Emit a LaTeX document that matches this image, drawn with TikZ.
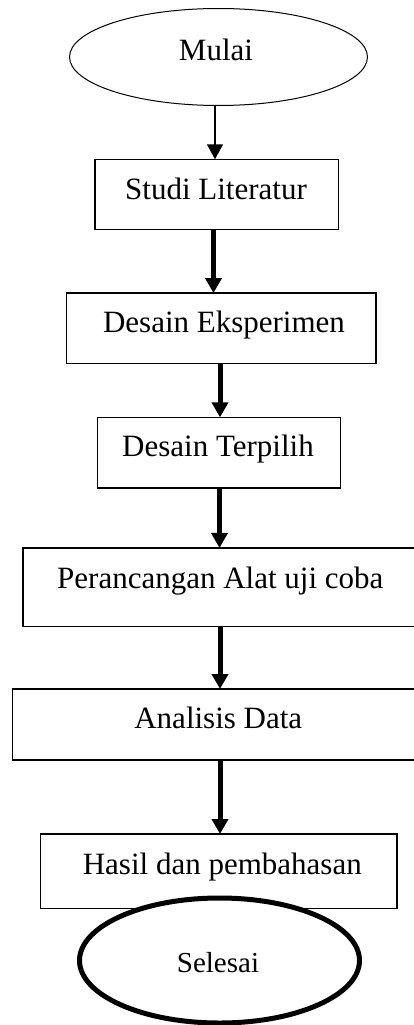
\documentclass[tikz,border=0pt]{standalone}
\usepackage{fontspec}
\setmainfont{Liberation Serif}
\usetikzlibrary{shapes.geometric,arrows.meta}
\tikzset{
  stepbox/.style={draw=black, line width=1.3pt, rectangle, inner sep=0pt, outer sep=0pt},
  termthin/.style={draw=black, line width=1pt, ellipse, inner sep=0pt, outer sep=0pt, fill=white},
  termthick/.style={draw=black, line width=5pt, ellipse, inner sep=0pt, outer sep=0pt, fill=white},
  lbl/.style={anchor=base, inner sep=0pt, font=\fontsize{31}{36}\selectfont},
  lblsmall/.style={anchor=base, inner sep=0pt, font=\fontsize{29}{34}\selectfont},
  thinarrow/.style={line width=1.4pt, -{Triangle[width=16pt,length=15pt]}},
  thickarrow/.style={line width=5pt, -{Triangle[width=16pt,length=15pt]}},
}
\begin{document}
\begin{tikzpicture}[x=1pt,y=-1pt]
\useasboundingbox (0,0) rectangle (413,1025);
% nodes
\node[termthin, minimum width=298pt, minimum height=97pt] (m) at (218.5,57) {};
\node[lbl] (tm) at (216,60) {Mulai};

\node[stepbox, minimum width=243.4pt, minimum height=70pt] (b1) at (216.7,194.3) {};
\node[lbl] (t1) at (216,199.5) {Studi Literatur};

\node[stepbox, minimum width=309.7pt, minimum height=70.3pt] (b2) at (221.2,328.2) {};
\node[lbl] (t2) at (224,332.7) {Desain Eksperimen};

\node[stepbox, minimum width=243.4pt, minimum height=70.7pt] (b3) at (219,452.7) {};
\node[lbl] (t3) at (218,456.7) {Desain Terpilih};

\node[stepbox, minimum width=402pt, minimum height=78.7pt] (b4) at (224,587.3) {};
\node[lbl] (t4) at (220.3,588.3) {Perancangan Alat uji coba};

\node[stepbox, minimum width=412.7pt, minimum height=71pt] (b5) at (218.7,724.5) {};
\node[lbl] (t5) at (218.3,728.3) {Analisis Data};

\node[stepbox, minimum width=356.6pt, minimum height=74.6pt] (b6) at (218.7,871.3) {};
\node[lbl] (t6) at (222.3,874.3) {Hasil dan pembahasan};

\node[termthick, minimum width=280pt, minimum height=125pt] (s) at (219.5,960.5) {};
\node[lblsmall] (ts) at (218,972.7) {Selesai};

% arrow columns
\coordinate (ax1) at (215,0);
\coordinate (ax2) at (213.5,0);
\coordinate (ax3) at (220,0);
\coordinate (ax4) at (219.5,0);
\coordinate (ax5) at (220,0);
\coordinate (ax6) at (220,0);

\draw[thinarrow] (m.south -| ax1) -- (b1.north -| ax1);
\draw[thickarrow] (b1.south -| ax2) -- (b2.north -| ax2);
\draw[thickarrow] (b2.south -| ax3) -- (b3.north -| ax3);
\draw[thickarrow] (b3.south -| ax4) -- (b4.north -| ax4);
\draw[thickarrow] (b4.south -| ax5) -- (b5.north -| ax5);
\draw[thickarrow] (b5.south -| ax6) -- (b6.north -| ax6);
\end{tikzpicture}
\end{document}
